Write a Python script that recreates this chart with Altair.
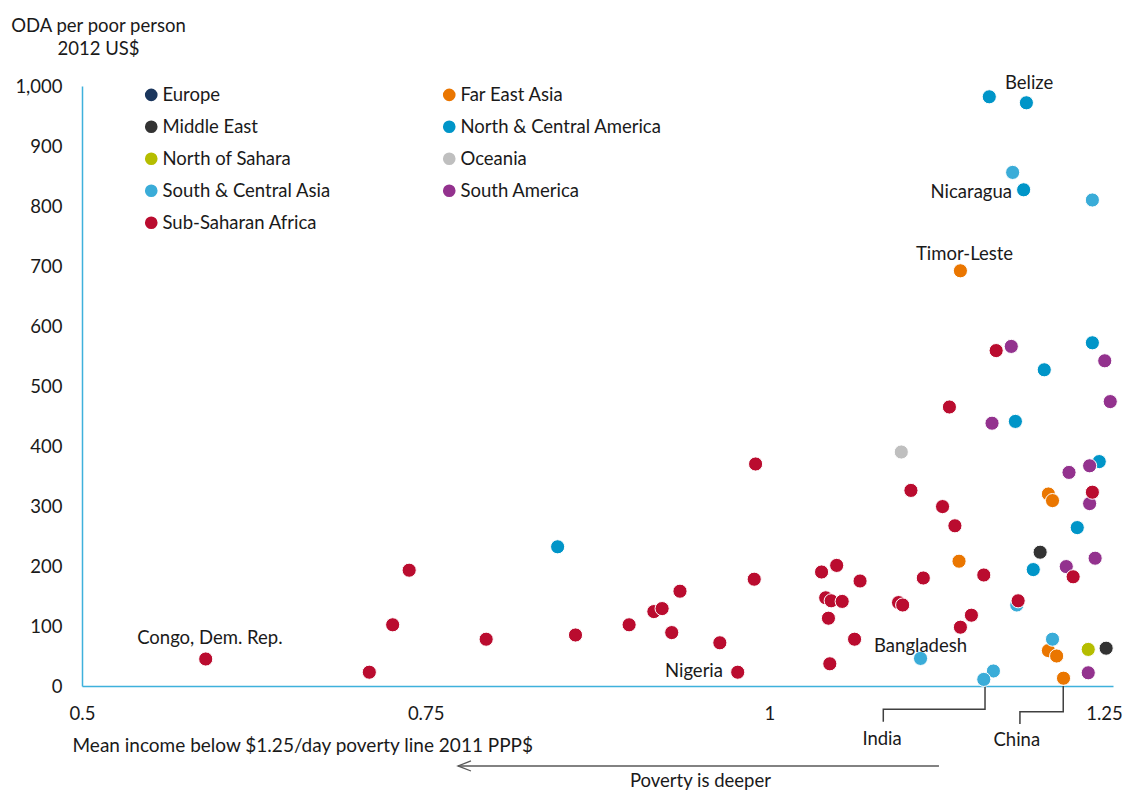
import altair as alt
import pandas as pd

# ---------------- data ----------------
regions = ["Europe", "Far East Asia", "Middle East", "North & Central America",
           "North of Sahara", "Oceania", "South & Central Asia", "South America",
           "Sub-Saharan Africa"]
colors = ["#1b365d", "#ea7600", "#333333", "#0095c8", "#b5bd00", "#bfbfbf",
          "#3aacd8", "#93328e", "#ba0c2f"]

europe_x = []
europe_y = []
fea_x = [1.139, 1.203, 1.206, 1.138, 1.203, 1.209, 1.214]
fea_y = [692, 320, 309, 208, 59, 50, 13]
me_x = [1.197, 1.245]
me_y = [223, 63]
nca_x = [1.160, 1.187, 1.185, 1.235, 1.200, 1.179, 1.240, 1.224, 1.192, 0.846]
nca_y = [982, 972, 827, 572, 527, 441, 374, 264, 194, 232]
nos_x = [1.232]
nos_y = [61]
oce_x = [1.096]
oce_y = [390]
sca_x = [1.177, 1.235, 1.180, 1.110, 1.163, 1.156, 1.206]
sca_y = [856, 810, 135, 46, 25, 11, 78]
sam_x = [1.176, 1.244, 1.248, 1.162, 1.233, 1.218, 1.233, 1.237, 1.216, 1.232]
sam_y = [566, 542, 474, 438, 367, 356, 304, 213, 199, 22]
ssa_x = [0.590, 0.709, 0.726, 0.738, 0.794, 0.859, 0.898, 0.916, 0.922, 0.935,
         0.929, 0.964, 0.977, 0.990, 0.989, 1.038, 1.049, 1.066, 1.041, 1.045,
         1.053, 1.043, 1.062, 1.044, 1.094, 1.097, 1.112, 1.147, 1.139, 1.156,
         1.181, 1.221, 1.235, 1.103, 1.126, 1.135, 1.131, 1.165]
ssa_y = [45, 23, 102, 193, 78, 85, 102, 124, 129, 158,
         89, 72, 23, 370, 178, 190, 201, 175, 147, 142,
         141, 113, 78, 37, 139, 135, 180, 118, 98, 185,
         142, 182, 323, 326, 299, 267, 465, 559]

series = [
    ("Europe", europe_x, europe_y),
    ("Far East Asia", fea_x, fea_y),
    ("Middle East", me_x, me_y),
    ("North & Central America", nca_x, nca_y),
    ("North of Sahara", nos_x, nos_y),
    ("Oceania", oce_x, oce_y),
    ("South & Central Asia", sca_x, sca_y),
    ("South America", sam_x, sam_y),
    ("Sub-Saharan Africa", ssa_x, ssa_y),
]

# annotation labels
label_text = ["Belize", "Nicaragua", "Timor-Leste", "Bangladesh", "Nigeria",
              "Congo, Dem. Rep.", "India", "China"]
label_x = [1.189, 1.1765, 1.142, 1.110, 0.9663, 0.593, 1.082, 1.180]
label_y = [1005, 823, 720, 67, 25, 80, -88, -90]
label_align = ["center", "right", "center", "center", "right", "center", "center", "center"]

# India / China connectors
conn_name = ["India"] * 4 + ["China"] * 4
conn_x = [1.1569, 1.1569, 1.0829, 1.0829, 1.2138, 1.2138, 1.1823, 1.1823]
conn_y = [0, -38.8, -38.8, -59.5, 0, -42.8, -42.8, -63.3]
conn_order = [0, 1, 2, 3, 0, 1, 2, 3]

# "Poverty is deeper" arrow
arrow_x = [0.7735]
arrow_x2 = [1.1234]
arrow_y = [-133.3]
arrow_text = ["Poverty is deeper"]
arrow_text_x = [0.9499]
arrow_text_y = [-169]

# ---------------- tables ----------------
rows = []
for name, xs, ys in series:
    for a, b in zip(xs, ys):
        rows.append({"region": name, "income": a, "oda": b})
points = pd.DataFrame(rows)

labels = pd.DataFrame({"text": label_text, "income": label_x, "oda": label_y,
                       "align": label_align})
conns = pd.DataFrame({"name": conn_name, "income": conn_x, "oda": conn_y,
                      "ord": conn_order})
arrow = pd.DataFrame({"x": arrow_x, "x2": arrow_x2, "y": arrow_y})
arrow_lbl = pd.DataFrame({"text": arrow_text, "x": arrow_text_x, "y": arrow_text_y})

FONT = "Lato"
TXT = "#1a1a1a"
FS = 18.5

xscale = alt.Scale(domain=[0.5, 1.25], nice=False, zero=False)
yscale = alt.Scale(domain=[0, 1000], nice=False)

x_axis = alt.Axis(values=[0.5, 0.75, 1, 1.25], format="~g",
                  title="Mean income below $1.25/day poverty line 2011 PPP$",
                  titleAnchor="start", titleAlign="left", titleX=-10, titleY=65,
                  titleBaseline="alphabetic", titleFontWeight="normal",
                  titleFont=FONT, titleFontSize=19, titleColor=TXT,
                  labelPadding=18, labelFlush=False, ticks=False, grid=False,
                  labelOffset={"condition": {"test": "datum.value > 1.2", "value": -9},
                               "value": 0},
                  domainColor="#3eb1dc", domainWidth=1.5,
                  labelFont=FONT, labelFontSize=FS, labelColor=TXT)
y_axis = alt.Axis(values=list(range(0, 1001, 100)), format=",.0f",
                  title=["ODA per poor person", "2012 US$"],
                  titleAngle=0, titleAlign="center", titleBaseline="top",
                  titleX=16, titleY=-70, titleLineHeight=23.5,
                  titleFontWeight="normal", titleFont=FONT, titleFontSize=FS,
                  titleColor=TXT, labelPadding=20, labelFlush=False,
                  ticks=False, grid=False, domainColor="#3eb1dc", domainWidth=1.5,
                  labelFont=FONT, labelFontSize=FS, labelColor=TXT)

pts = alt.Chart(points).mark_point(filled=True, size=200, opacity=1,
                                   strokeWidth=1).encode(
    x=alt.X("income:Q", scale=xscale, axis=x_axis),
    y=alt.Y("oda:Q", scale=yscale, axis=y_axis),
    color=alt.Color("region:N", scale=alt.Scale(domain=regions, range=colors),
                    legend=alt.Legend(title=None, orient="none", legendX=60,
                                      legendY=-0.5, columns=2, direction="horizontal",
                                      columnPadding=109,
                                      rowPadding=13, labelFont=FONT,
                                      labelFontSize=FS, labelColor=TXT,
                                      symbolSize=160, symbolType="circle",
                                      symbolStrokeWidth=0, symbolOpacity=1,
                                      labelOffset=2, labelLimit=400, padding=0)),
    stroke=alt.value("white"),
)

lbl_layers = []
for al in ["center", "right"]:
    sub = labels[labels["align"] == al]
    lbl_layers.append(
        alt.Chart(sub).mark_text(font=FONT, fontSize=FS, color=TXT, align=al,
                                 baseline="middle", clip=False).encode(
            x=alt.X("income:Q", scale=xscale),
            y=alt.Y("oda:Q", scale=yscale),
            text="text:N")
    )

conn_lines = alt.Chart(conns).mark_line(color="#404040", strokeWidth=1.5,
                                        clip=False).encode(
    x=alt.X("income:Q", scale=xscale),
    y=alt.Y("oda:Q", scale=yscale),
    detail="name:N",
    order="ord:Q",
)

arrow_rule = alt.Chart(arrow).mark_rule(color="#595959", strokeWidth=1.3,
                                        clip=False).encode(
    x=alt.X("x:Q", scale=xscale),
    x2="x2:Q",
    y=alt.Y("y:Q", scale=yscale),
)
arrow_head = alt.Chart(arrow).mark_point(shape="M2,-0.77L0,0L2,0.77", size=169,
                                         filled=False, color="#595959",
                                         strokeWidth=1.3, opacity=1,
                                         clip=False).encode(
    x=alt.X("x:Q", scale=xscale),
    y=alt.Y("y:Q", scale=yscale),
)
arrow_txt = alt.Chart(arrow_lbl).mark_text(font=FONT, fontSize=FS, color=TXT,
                                           align="center", baseline="alphabetic",
                                           clip=False).encode(
    x=alt.X("x:Q", scale=xscale),
    y=alt.Y("y:Q", scale=yscale),
    text="text:N",
)

chart = alt.layer(conn_lines, arrow_rule, arrow_head, arrow_txt, pts,
                  *lbl_layers).properties(
    width=1031, height=600,
    autosize=alt.AutoSizeParams(type="none"),
    padding={"left": 74, "top": 78, "right": 11, "bottom": 104},
).configure(font=FONT).configure_view(stroke=None)

chart.save("out.html", embed_options={"renderer": "svg", "actions": False})
